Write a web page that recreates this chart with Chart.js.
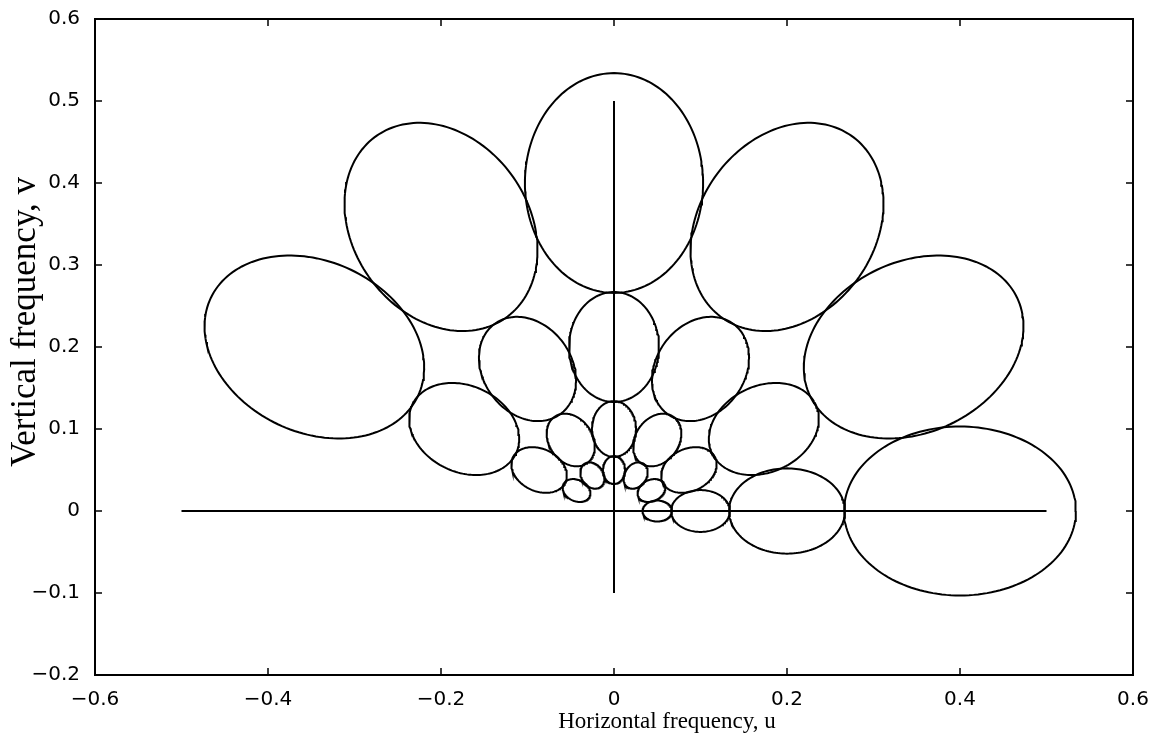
<!DOCTYPE html>
<html>
<head>
<meta charset="utf-8">
<script src="https://cdn.jsdelivr.net/npm/chart.js@4.4.1/dist/chart.umd.min.js"></script>
<style>
  html, body { margin: 0; padding: 0; background: #fff; }
  #wrap { width: 1159px; height: 734px; position: relative; }
</style>
</head>
<body>
<div id="wrap"><canvas id="chart"></canvas></div>
<script>
// filter bank: four rings, six orientations each
const ringFreq = [0.05, 0.1, 0.2, 0.4];
const ringRadial = [0.017, 0.034, 0.067, 0.134];      // semi-axis along the radius
const ringTangential = [0.0128, 0.0255, 0.052, 0.103]; // semi-axis across it
const orientationDeg = [0, 30, 60, 90, 120, 150];

// the two straight axis lines inside the plot
const hLineU = [-0.5, 0.5];
const hLineV = [0, 0];
const vLineU = [0, 0];
const vLineV = [-0.1, 0.5];

const xTickValues = [-0.6, -0.4, -0.2, 0, 0.2, 0.4, 0.6];
const xTickLabels = ['\u22120.6', '\u22120.4', '\u22120.2', '0', '0.2', '0.4', '0.6'];
const yTickValues = [-0.2, -0.1, 0, 0.1, 0.2, 0.3, 0.4, 0.5, 0.6];
const yTickLabels = ['\u22120.2', '\u22120.1', '0', '0.1', '0.2', '0.3', '0.4', '0.5', '0.6'];

const xTitle = 'Horizontal frequency, u';
const yTitle = 'Vertical frequency, v';

// outline of one ellipse in data units
function ellipseOutline(f, a, b, deg) {
  const th = deg * Math.PI / 180;
  const cx = f * Math.cos(th), cy = f * Math.sin(th);
  const pts = [];
  const n = 160;
  for (let i = 0; i <= n; i++) {
    const t = 2 * Math.PI * i / n;
    const r = a * Math.cos(t), s = b * Math.sin(t);
    pts.push({ x: cx + r * Math.cos(th) - s * Math.sin(th), y: cy + r * Math.sin(th) + s * Math.cos(th) });
  }
  return pts;
}

const lineStyle = {
  showLine: true, borderColor: '#000', borderWidth: 2,
  pointRadius: 0, tension: 0, fill: false
};

const datasets = [];
ringFreq.forEach((f, k) => {
  orientationDeg.forEach(deg => {
    datasets.push({ ...lineStyle, label: 'f=' + f + ' ' + deg + '\u00b0', data: ellipseOutline(f, ringRadial[k], ringTangential[k], deg) });
  });
});
datasets.push({ ...lineStyle, label: 'u axis', data: hLineU.map((u, i) => ({ x: u, y: hLineV[i] })) });
datasets.push({ ...lineStyle, label: 'v axis', data: vLineU.map((u, i) => ({ x: u, y: vLineV[i] })) });

// box round the plot, inward ticks on all sides, and the two axis titles
const framePlugin = {
  id: 'frame',
  afterDraw(chart) {
    const { ctx, chartArea: a, scales } = chart;
    ctx.save();
    ctx.strokeStyle = '#000';
    ctx.lineWidth = 2;
    ctx.strokeRect(a.left, a.top, a.right - a.left, a.bottom - a.top);
    ctx.lineWidth = 1.5;
    const len = 7;
    ctx.beginPath();
    xTickValues.forEach(v => {
      const px = scales.x.getPixelForValue(v);
      ctx.moveTo(px, a.bottom); ctx.lineTo(px, a.bottom - len);
      ctx.moveTo(px, a.top); ctx.lineTo(px, a.top + len);
    });
    yTickValues.forEach(v => {
      const py = scales.y.getPixelForValue(v);
      ctx.moveTo(a.left, py); ctx.lineTo(a.left + len, py);
      ctx.moveTo(a.right, py); ctx.lineTo(a.right - len, py);
    });
    ctx.stroke();

    ctx.fillStyle = '#000';
    ctx.textAlign = 'center';
    ctx.textBaseline = 'alphabetic';
    ctx.font = '23px "Liberation Serif", serif';
    ctx.fillText(xTitle, 667, 728);
    ctx.translate(35, 322);
    ctx.rotate(-Math.PI / 2);
    ctx.font = '35px "Liberation Serif", serif';
    ctx.fillText(yTitle, 0, 0);
    ctx.restore();
  }
};

new Chart(document.getElementById('chart'), {
  type: 'scatter',
  data: { datasets },
  options: {
    responsive: true,
    maintainAspectRatio: false,
    animation: false,
    layout: { padding: { left: 0, top: 17, right: 26, bottom: 0 } },
    plugins: { legend: { display: false }, tooltip: { enabled: false } },
    scales: {
      x: {
        type: 'linear', min: -0.6, max: 0.6,
        afterBuildTicks: s => { s.ticks = xTickValues.map(v => ({ value: v })); },
        afterFit: s => { s.height = 59; },
        grid: { display: false },
        border: { display: false },
        ticks: {
          color: '#000', padding: 5, maxRotation: 0, autoSkip: false,
          font: { family: '"DejaVu Sans", sans-serif', size: 20 },
          callback: (v, i) => xTickLabels[i]
        }
      },
      y: {
        type: 'linear', min: -0.2, max: 0.6,
        afterBuildTicks: s => { s.ticks = yTickValues.map(v => ({ value: v })); },
        afterFit: s => { s.width = 95; },
        grid: { display: false },
        border: { display: false },
        ticks: {
          color: '#000', padding: 7, autoSkip: false,
          font: { family: '"DejaVu Sans", sans-serif', size: 20 },
          callback: (v, i) => yTickLabels[i]
        }
      }
    }
  },
  plugins: [framePlugin]
});
</script>
</body>
</html>
